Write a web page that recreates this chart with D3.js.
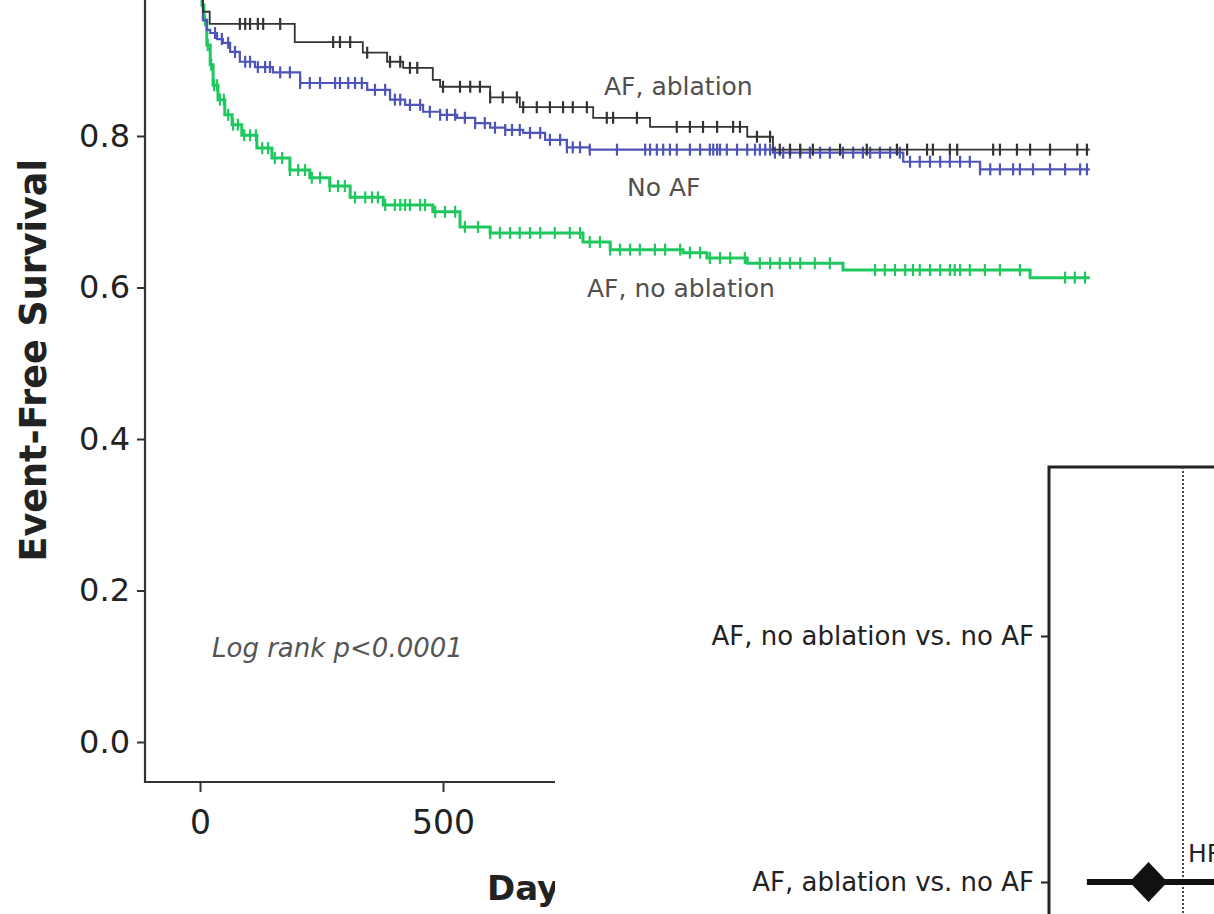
<!DOCTYPE html>
<html>
<head>
<meta charset="utf-8">
<script src="https://cdn.jsdelivr.net/npm/d3@7"></script>
<style>
  html, body { margin: 0; padding: 0; background: #fff; overflow: hidden; }
  text { font-family: "DejaVu Sans", sans-serif; }
</style>
</head>
<body>
<main></main>
<script>
// Kaplan-Meier step values [day, survival]
const ablationSurv = [[0,1],[6,0.964],[20,0.948],[195,0.924],[335,0.910],[385,0.898],[418,0.890],
  [479,0.874],[494,0.865],[597,0.851],[658,0.838],[809,0.824],[926,0.812],[1126,0.799],[1179,0.782]];
const noAfSurv = [[0,1],[6,0.953],[14,0.940],[21,0.936],[35,0.928],[47,0.923],[62,0.911],[82,0.898],
  [113,0.891],[150,0.884],[206,0.870],[344,0.861],[391,0.848],[422,0.841],[459,0.832],[494,0.828],
  [529,0.824],[566,0.817],[597,0.811],[628,0.808],[665,0.804],[710,0.795],[755,0.785],[802,0.782],
  [1179,0.778],[1447,0.766],[1605,0.756]];
const noAblationSurv = [[0,1],[4,0.973],[8,0.953],[14,0.920],[21,0.894],[27,0.867],[37,0.848],[51,0.828],
  [66,0.815],[86,0.801],[117,0.784],[148,0.771],[185,0.755],[226,0.745],[267,0.734],[309,0.719],
  [377,0.709],[479,0.700],[535,0.680],[597,0.672],[788,0.660],[844,0.650],[994,0.646],[1043,0.639],
  [1126,0.632],[1323,0.623],[1708,0.613]];
const followUpEnd = 1831;

// censored observations (days)
const ablationCensor = [82,93,103,119,130,165,274,288,309,344,391,412,432,447,500,535,556,576,597,623,652,665,
  693,720,747,767,796,837,850,899,981,1008,1035,1064,1097,1111,1146,1173,1193,1214,1235,1261,1317,1372,
  1434,1455,1496,1508,1543,1558,1632,1646,1681,1708,1749,1805,1825];
const noAfCensor = [31,45,58,72,93,103,119,134,144,165,185,206,226,247,278,288,305,319,333,360,381,401,412,
  432,453,473,494,508,525,545,566,586,607,628,642,658,679,700,720,741,755,767,782,802,858,916,926,940,953,
  967,981,1008,1029,1049,1056,1064,1070,1084,1105,1126,1142,1152,1163,1173,1183,1200,1214,1235,1255,1276,
  1296,1323,1344,1364,1379,1399,1420,1440,1461,1481,1502,1523,1543,1564,1584,1605,1626,1646,1673,1687,1714,
  1749,1780,1811,1825];
const noAblationCensor = [10,16,23,29,35,41,49,58,68,78,91,103,115,128,140,154,169,185,202,216,230,247,267,284,
  298,319,340,354,366,381,401,412,422,432,453,463,484,504,525,545,572,597,617,638,658,679,700,730,761,782,
  802,823,844,864,885,905,936,957,988,1008,1029,1049,1070,1091,1121,1152,1173,1193,1214,1235,1265,1296,
  1389,1409,1430,1451,1467,1481,1502,1523,1543,1553,1564,1584,1615,1646,1687,1780,1800,1821];

const yTicks = [0, 0.2, 0.4, 0.6, 0.8, 1.0];
const xTicks = [0, 500, 1000, 1500, 2000];

// hazard ratio inset
const forestRows = ["AF, no ablation vs. no AF", "AF, ablation vs. no AF"];
const hrPoint = [1.9, 0.70];
const hrLow = [1.5, 0.37];
const hrHigh = [2.5, 1.45];

const width = 1214, height = 914;
const svg = d3.select('main').append('svg')
    .attr('width', width)
    .attr('height', height);

const x = d3.scaleLinear().domain([0, 500]).range([200, 443]);
const y = d3.scaleLinear().domain([0, 1]).range([742, -15.5]);
const axisX = 145, axisY = 782;
const insetLeft = 555, insetTop = 430;

// y axis
const yAxis = svg.append('g')
    .attr('transform', `translate(${axisX},0)`)
    .call(d3.axisLeft(y).tickValues(yTicks).tickFormat(d3.format('.1f')).tickSize(8).tickSizeOuter(0));
yAxis.select('.domain').remove();
yAxis.selectAll('line').attr('stroke', '#333').attr('stroke-width', 2);
yAxis.selectAll('text')
    .attr('x', -15)
    .attr('fill', '#222')
    .style('font-size', '32px')
    .style('font-family', '"DejaVu Sans", sans-serif');

// x axis (ticks further right sit under the inset panel)
const xAxis = svg.append('g')
    .attr('transform', `translate(0,${axisY})`)
    .call(d3.axisBottom(x).tickValues(xTicks.filter(t => x(t) < insetLeft)).tickSize(10).tickSizeOuter(0));
xAxis.select('.domain').remove();
xAxis.selectAll('line').attr('stroke', '#333').attr('stroke-width', 2);
xAxis.selectAll('text')
    .attr('y', 29)
    .attr('fill', '#222')
    .style('font-size', '33px')
    .style('font-family', '"DejaVu Sans", sans-serif');

svg.append('path')
    .attr('d', `M${axisX},-5V${axisY}H${width}`)
    .attr('fill', 'none')
    .attr('stroke', '#333')
    .attr('stroke-width', 2.2);

// axis titles
svg.append('text')
    .attr('transform', `translate(46,${y(0.5) - 3}) rotate(-90)`)
    .attr('text-anchor', 'middle')
    .attr('fill', '#222')
    .style('font-size', '36.5px')
    .style('font-weight', 'bold')
    .text('Event-Free Survival');

svg.append('text')
    .attr('x', 487)
    .attr('y', 900)
    .attr('fill', '#222')
    .style('font-size', '34px')
    .style('font-weight', 'bold')
    .text('Days');

// survival curves
const curves = [
    { name: 'AF, ablation', steps: ablationSurv, censor: ablationCensor, color: '#333333', w: 1.8 },
    { name: 'No AF', steps: noAfSurv, censor: noAfCensor, color: '#4f54b8', w: 2.2 },
    { name: 'AF, no ablation', steps: noAblationSurv, censor: noAblationCensor, color: '#1fc85f', w: 3 }
];

function survAt(steps, t) {
    let v = steps[0][1];
    for (const s of steps) { if (s[0] <= t) v = s[1]; }
    return v;
}

const stepLine = d3.line()
    .x(d => x(d[0]))
    .y(d => y(d[1]))
    .curve(d3.curveStepAfter);

// draw green first, black on top
curves.slice().reverse().forEach(c => {
    const pts = c.steps.concat([[followUpEnd, c.steps[c.steps.length - 1][1]]]);
    svg.append('path')
        .datum(pts)
        .attr('fill', 'none')
        .attr('stroke', c.color)
        .attr('stroke-width', c.w)
        .attr('d', stepLine);
    svg.append('g').selectAll('line')
        .data(c.censor)
        .enter()
        .append('line')
        .attr('x1', d => x(d)).attr('x2', d => x(d))
        .attr('y1', d => y(survAt(c.steps, d)) - 6)
        .attr('y2', d => y(survAt(c.steps, d)) + 6)
        .attr('stroke', c.color)
        .attr('stroke-width', 2.2);
});

// curve labels
const labels = [
    { text: 'AF, ablation', x: 604, y: 95 },
    { text: 'No AF', x: 627, y: 196 },
    { text: 'AF, no ablation', x: 587, y: 297 }
];
svg.selectAll('.curve-label')
    .data(labels)
    .enter()
    .append('text')
    .attr('class', 'curve-label')
    .attr('x', d => d.x)
    .attr('y', d => d.y)
    .attr('fill', '#505050')
    .style('font-size', '25px')
    .text(d => d.text);

svg.append('text')
    .attr('x', 212)
    .attr('y', 657)
    .attr('fill', '#555')
    .style('font-size', '26px')
    .style('font-style', 'italic')
    .text('Log rank p<0.0001');

// inset: hazard ratio panel (pasted over the lower right)
svg.append('rect')
    .attr('x', insetLeft).attr('y', insetTop)
    .attr('width', width - insetLeft).attr('height', height - insetTop)
    .attr('fill', '#fff');

const fx = d3.scaleLog().domain([0.25, 4]).range([1049, 1317]);
const fy = d3.scalePoint().domain(forestRows).range([636, 882]);
const boxLeft = 1049, boxTop = 467;

svg.append('path')
    .attr('d', `M${boxLeft},${height + 5}V${boxTop}H${width + 5}`)
    .attr('fill', 'none')
    .attr('stroke', '#222')
    .attr('stroke-width', 3);

svg.append('line')
    .attr('x1', fx(1)).attr('x2', fx(1))
    .attr('y1', boxTop).attr('y2', height)
    .attr('stroke', '#444')
    .attr('stroke-width', 2)
    .attr('stroke-dasharray', '2,2');

const fAxis = svg.append('g')
    .attr('transform', `translate(${boxLeft},0)`)
    .call(d3.axisLeft(fy).tickSize(8).tickSizeOuter(0));
fAxis.select('.domain').remove();
fAxis.selectAll('line').attr('stroke', '#222').attr('stroke-width', 2);
fAxis.selectAll('text')
    .attr('x', -15)
    .attr('fill', '#222')
    .style('font-size', '26px')
    .style('font-family', '"DejaVu Sans", sans-serif');

const rows = forestRows.map((r, i) => ({ row: r, hr: hrPoint[i], lo: hrLow[i], hi: hrHigh[i] }));

svg.append('g').selectAll('line')
    .data(rows)
    .enter()
    .append('line')
    .attr('x1', d => fx(d.lo)).attr('x2', d => fx(d.hi))
    .attr('y1', d => fy(d.row)).attr('y2', d => fy(d.row))
    .attr('stroke', '#111')
    .attr('stroke-width', 6);

svg.append('g').selectAll('path')
    .data(rows)
    .enter()
    .append('path')
    .attr('d', d => {
        const cx = fx(d.hr), cy = fy(d.row);
        return `M${cx - 19},${cy}L${cx},${cy - 20}L${cx + 19},${cy}L${cx},${cy + 20}Z`;
    })
    .attr('fill', '#111');

svg.append('text')
    .attr('x', fx(1) + 5)
    .attr('y', fy(forestRows[1]) - 20)
    .attr('fill', '#222')
    .style('font-size', '25px')
    .text('HR');
</script>
</body>
</html>
